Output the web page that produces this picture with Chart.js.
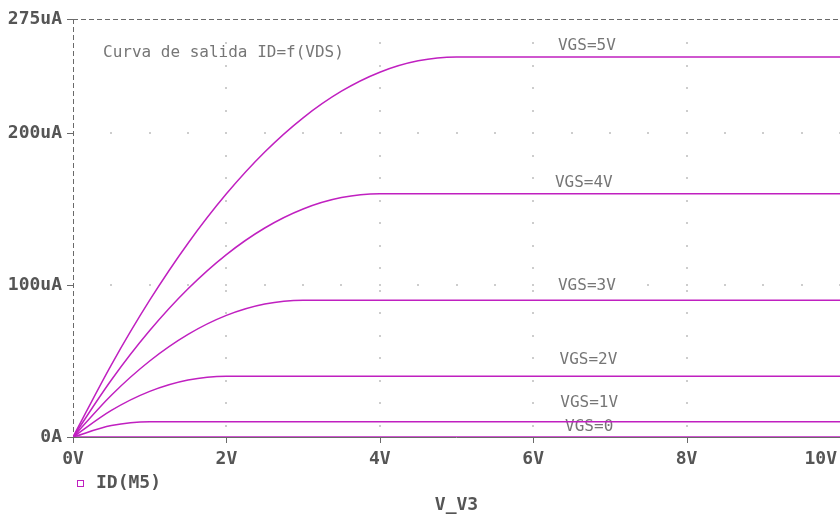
<!DOCTYPE html>
<html lang="es">
<head>
<meta charset="utf-8">
<title>Curva de salida ID=f(VDS)</title>
<script src="https://cdn.jsdelivr.net/npm/chart.js@4.4.1/dist/chart.umd.min.js"></script>
<style>
    html, body { margin: 0; padding: 0; background: #ffffff; }
    canvas { display: block; }
</style>
</head>
<body>
<canvas id="curvaSalida" width="840" height="516"></canvas>
<script>
// ================================================================
//  DATOS
// ================================================================
const vds = [0, 0.5, 1, 1.5, 2, 2.5, 3, 3.5, 4, 4.5, 5, 10];          // V_V3 en V
const idVgs5 = [0, 47.5, 90, 127.5, 160, 187.5, 210, 227.5, 240, 247.5, 250, 250]; // uA
const idVgs4 = [0, 37.5, 70, 97.5, 120, 137.5, 150, 157.5, 160, 160, 160, 160];
const idVgs3 = [0, 27.5, 50, 67.5, 80, 87.5, 90, 90, 90, 90, 90, 90];
const idVgs2 = [0, 17.5, 30, 37.5, 40, 40, 40, 40, 40, 40, 40, 40];
const idVgs1 = [0, 7.5, 10, 10, 10, 10, 10, 10, 10, 10, 10, 10];
const idVgs0 = [0, 0, 0, 0, 0, 0, 0, 0, 0, 0, 0, 0];

const etiquetasVgs = ['VGS=5V', 'VGS=4V', 'VGS=3V', 'VGS=2V', 'VGS=1V', 'VGS=0'];
const etiquetaVx = [6.70, 6.66, 6.70, 6.72, 6.73, 6.73];      // V
const etiquetaVy = [257.4, 167.2, 99.7, 50.6, 22.7, 6.9];     // uA

const ticksX = [0, 2, 4, 6, 8, 10];
const ticksXTexto = ['0V', '2V', '4V', '6V', '8V', '10V'];
const ticksY = [0, 100, 200, 275];
const ticksYTexto = ['0A', '100uA', '200uA', '275uA'];

const tituloGrafica = 'Curva de salida ID=f(VDS)';
const leyenda = 'ID(M5)';
const tituloX = 'V_V3';

// ================================================================
//  ESTILO
// ================================================================
const FUENTE = '"DejaVu Sans Mono", "Liberation Mono", monospace';
const GRIS_TEXTO = '#555555';
const GRIS_FINO = '#767676';
const GRIS_EJE = '#6a6a6a';
const MAGENTA = '#c020c0';

function serie(valores) {
    return {
        data: vds.map((v, i) => ({ x: v, y: valores[i] })),
        borderColor: MAGENTA,
        borderWidth: 1.5,
        pointRadius: 0,
        fill: false,
        cubicInterpolationMode: 'monotone'
    };
}

// Marco, rejilla de puntos y textos al estilo PSpice
const marcoPlugin = {
    id: 'marco',
    beforeDatasetsDraw(chart) {
        const { ctx, chartArea: a, scales: { x, y } } = chart;
        ctx.save();

        // rejilla de puntos
        ctx.fillStyle = '#cdcdcd';
        [100, 200].forEach(v => {
            const py = Math.round(y.getPixelForValue(v));
            for (let vx = 0.5; vx <= 10; vx += 0.5) {
                ctx.fillRect(Math.round(x.getPixelForValue(vx)) - 1, py - 1, 2, 2);
            }
        });
        [2, 4, 6, 8].forEach(v => {
            const px = Math.round(x.getPixelForValue(v));
            for (let py = a.top + 24; py < a.bottom - 4; py += 22.5) {
                ctx.fillRect(px - 1, Math.round(py) - 1, 2, 2);
            }
        });

        // bordes discontinuos
        ctx.strokeStyle = GRIS_EJE;
        ctx.lineWidth = 1;
        ctx.setLineDash([5, 3]);
        ctx.beginPath();
        ctx.moveTo(a.left + 0.5, a.top);
        ctx.lineTo(a.left + 0.5, a.bottom);
        ctx.moveTo(a.left, a.top + 0.5);
        ctx.lineTo(a.right, a.top + 0.5);
        ctx.stroke();
        ctx.setLineDash([]);

        // eje inferior y marcas
        ctx.beginPath();
        ctx.moveTo(a.left, a.bottom + 0.5);
        ctx.lineTo(a.right, a.bottom + 0.5);
        ticksX.forEach(v => {
            const px = Math.round(x.getPixelForValue(v)) + 0.5;
            ctx.moveTo(px, a.bottom);
            ctx.lineTo(px, a.bottom + 6);
        });
        ctx.stroke();

        // titulo y etiquetas VGS
        ctx.fillStyle = GRIS_FINO;
        ctx.font = '16px ' + FUENTE;
        ctx.textBaseline = 'middle';
        ctx.textAlign = 'left';
        ctx.fillText(tituloGrafica, a.left + 30, 53);
        ctx.textAlign = 'center';
        etiquetasVgs.forEach((t, i) => {
            ctx.fillText(t, x.getPixelForValue(etiquetaVx[i]), y.getPixelForValue(etiquetaVy[i]));
        });
        ctx.restore();
    },
    afterDraw(chart) {
        const { ctx, chartArea: a, scales: { x } } = chart;
        ctx.save();
        ctx.fillStyle = GRIS_TEXTO;
        ctx.font = 'bold 18px ' + FUENTE;
        ctx.textBaseline = 'middle';
        ctx.textAlign = 'left';

        // etiquetas del eje X (la última se mete dentro del lienzo)
        ticksX.forEach((v, i) => {
            const t = ticksXTexto[i];
            const w = ctx.measureText(t).width;
            let cx = x.getPixelForValue(v) - w / 2;
            cx = Math.min(cx, chart.width - w - 3);
            ctx.fillText(t, cx, a.bottom + 22);
        });

        // leyenda
        ctx.strokeStyle = MAGENTA;
        ctx.lineWidth = 1;
        ctx.strokeRect(a.left + 4.5, a.bottom + 43.5, 6, 6);
        ctx.fillText(leyenda, a.left + 23, a.bottom + 46);

        // titulo del eje X
        ctx.textAlign = 'center';
        ctx.fillText(tituloX, (a.left + a.right) / 2, a.bottom + 68);
        ctx.restore();
    }
};

// ================================================================
//  GRÁFICA
// ================================================================
const ctxCurva = document.getElementById('curvaSalida').getContext('2d');

new Chart(ctxCurva, {
    type: 'line',
    data: {
        datasets: [
            serie(idVgs5),
            serie(idVgs4),
            serie(idVgs3),
            serie(idVgs2),
            serie(idVgs1),
            serie(idVgs0)
        ]
    },
    options: {
        responsive: false,
        devicePixelRatio: 1,
        animation: false,
        layout: { padding: { top: 19, right: 0, bottom: 0, left: 0 }, autoPadding: false },
        plugins: {
            legend: { display: false },
            tooltip: { enabled: false }
        },
        scales: {
            x: {
                type: 'linear',
                min: 0,
                max: 10,
                afterBuildTicks: (scale) => { scale.ticks = ticksX.map(v => ({ value: v })); },
                afterFit: (scale) => { scale.height = 79; },
                ticks: { display: false },
                grid: { display: false },
                border: { display: false }
            },
            y: {
                type: 'linear',
                min: 0,
                max: 275,
                afterBuildTicks: (scale) => { scale.ticks = ticksY.map(v => ({ value: v })); },
                afterFit: (scale) => { scale.width = 73; },
                ticks: {
                    color: GRIS_TEXTO,
                    padding: 5,
                    font: { family: FUENTE, size: 18, weight: 'bold' },
                    callback: (v) => ticksYTexto[ticksY.indexOf(v)]
                },
                grid: {
                    drawOnChartArea: false,
                    drawTicks: true,
                    tickLength: 6,
                    color: GRIS_EJE,
                    lineWidth: 1
                },
                border: { display: false }
            }
        }
    },
    plugins: [marcoPlugin]
});
</script>
</body>
</html>
